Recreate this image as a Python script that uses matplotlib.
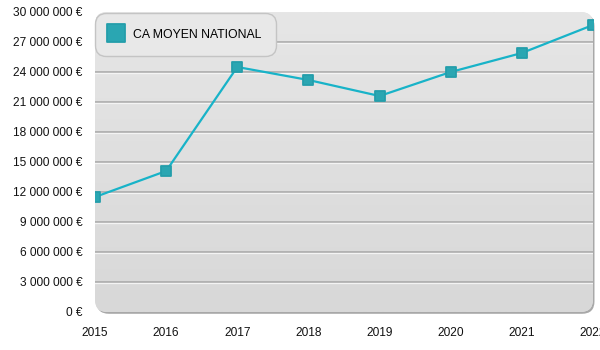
import numpy as np
import matplotlib.pyplot as plt
from matplotlib.patches import FancyBboxPatch
from matplotlib.markers import MarkerStyle
from matplotlib.lines import Line2D
from matplotlib.ticker import FuncFormatter

plt.rcParams['font.family'] = ['Liberation Sans', 'DejaVu Sans']

# Chiffre d'affaires moyen national par année
years = [2015, 2016, 2017, 2018, 2019, 2020, 2021, 2022]
ca_moyen = [11_500_000, 14_100_000, 24_500_000, 23_200_000, 21_600_000,
            24_000_000, 25_900_000, 28_700_000]
series_name = 'CA MOYEN NATIONAL'

line_color = '#18b3c8'
marker_color = '#2aa6b2'

fig = plt.figure(figsize=(6, 3.5), dpi=100)
ax = fig.add_axes([95 / 600, 38 / 350, 498 / 600, 300 / 350])
ax.set_xlim(2015, 2022)
ax.set_ylim(0, 30_000_000)
ax.patch.set_visible(False)
for s in ax.spines.values():
    s.set_visible(False)

# rounded plot background with a soft shadow on the right/bottom
aspect = 498 / 300
shadow = FancyBboxPatch((0.003, -0.006), 1.0, 1.0, boxstyle='round,pad=0,rounding_size=0.025',
                        mutation_aspect=aspect, transform=ax.transAxes,
                        facecolor='#a8a8a8', edgecolor='none', zorder=0, clip_on=False)
ax.add_patch(shadow)
bg = FancyBboxPatch((0, 0), 1.0, 1.0, boxstyle='round,pad=0,rounding_size=0.025',
                    mutation_aspect=aspect, transform=ax.transAxes,
                    facecolor='#e0e0e0', edgecolor='none', zorder=0.5, clip_on=False)
ax.add_patch(bg)
grad = np.linspace(0, 1, 256).reshape(-1, 1)
img = ax.imshow(grad, cmap=plt.matplotlib.colors.LinearSegmentedColormap.from_list(
    'bg', ['#d8d8d8', '#e6e6e6']), origin='lower', aspect='auto',
    extent=[0, 1, 0, 1], transform=ax.transAxes, zorder=0.6)
img.set_clip_path(bg)

# embossed grid lines
ticks = np.arange(0, 30_000_001, 3_000_000)
for t in ticks[1:-1]:
    ax.axhline(t, color='#ababab', lw=1.2, zorder=1)
    ax.axhline(t - 120_000, color='#f4f4f4', lw=0.9, zorder=1)

ms = MarkerStyle('s', joinstyle='round')
ax.plot(years, ca_moyen, color=line_color, lw=1.6, zorder=3,
        marker=ms, markersize=7.5, markerfacecolor=marker_color,
        markeredgecolor='#249eab', markeredgewidth=1.3)

ax.set_yticks(ticks)
ax.yaxis.set_major_formatter(FuncFormatter(lambda v, p: f'{int(v):,} €'.replace(',', ' ')))
ax.set_xticks(years)
ax.tick_params(length=0, labelsize=8.6, colors='#111111')
ax.tick_params(axis='y', pad=9)
ax.tick_params(axis='x', pad=11)

handle = Line2D([], [], linestyle='none', marker=MarkerStyle('s', joinstyle='round'),
                markersize=13.5, markerfacecolor=marker_color, markeredgecolor='#249eab',
                markeredgewidth=1.3)
leg = ax.legend([handle], [series_name], loc='upper left', bbox_to_anchor=(0.0, 0.997),
                frameon=True, fancybox=True, facecolor='#e8e8e8', edgecolor='#c4c4c4',
                framealpha=1, fontsize=8.8, borderpad=1.2, handletextpad=0.9,
                borderaxespad=0, handlelength=1.0, handleheight=1.2)
leg.get_frame().set_linewidth(1.0)
leg.get_frame().set_boxstyle('round,pad=0,rounding_size=0.9')
leg.set_zorder(5)

fig.savefig('out.png', dpi=100)
